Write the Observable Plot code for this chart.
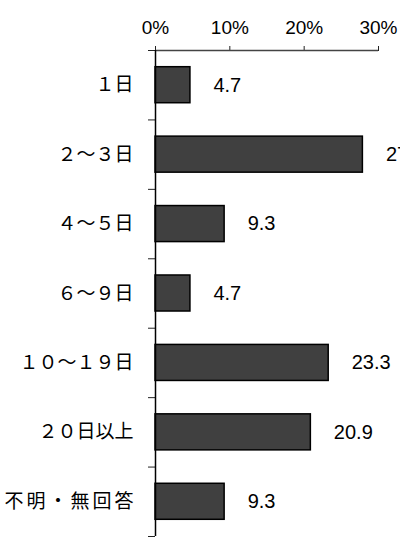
<!DOCTYPE html>
<html>
<head>
<meta charset="utf-8">
<script src="https://cdn.jsdelivr.net/npm/d3@7"></script>
<script src="https://cdn.jsdelivr.net/npm/@observablehq/plot@0.6"></script>
<style>
  html, body { margin: 0; padding: 0; background: #fff; overflow: hidden; width: 400px; height: 538px; }
  #chart svg { display: block; overflow: visible; }
</style>
</head>
<body>
<div id="chart"></div>
<script>
const categories = ["１日", "２～３日", "４～５日", "６～９日", "１０～１９日", "２０日以上", "不明・無回答"];
const values = [4.7, 27.9, 9.3, 4.7, 23.3, 20.9, 9.3];
const xTicks = [0, 10, 20, 30];

const data = categories.map((c, i) => ({category: c, index: i, value: values[i]}));
const mids = categories.map((c, i) => i + 0.5);
const bounds = d3.range(categories.length + 1);

const font = "'Liberation Sans', 'Noto Sans CJK JP', sans-serif";
const cjkFont = "'Noto Sans CJK JP', sans-serif";

const chart = Plot.plot({
  width: 400,
  height: 538,
  marginTop: 50,
  marginBottom: 2,
  marginLeft: 155,
  marginRight: 22,
  style: {fontFamily: font, fontSize: "20px", color: "#000", background: "#fff"},
  x: {type: "linear", domain: [0, 30]},
  y: {type: "linear", domain: [0, categories.length], reverse: true},
  marks: [
    Plot.rectX(data, {
      x1: 0,
      x2: "value",
      y1: "index",
      y2: d => d.index + 1,
      insetTop: 16.7,
      insetBottom: 16.7,
      fill: "#404040",
      stroke: "#000",
      strokeWidth: 1.5
    }),
    Plot.text(data, {
      x: "value",
      y: d => d.index + 0.5,
      text: d => d.value.toFixed(1),
      dx: 23,
      textAnchor: "start",
      fontSize: 20,
      fill: "#000"
    }),
    Plot.axisX({
      anchor: "top",
      ticks: xTicks,
      tickFormat: d => d + "%",
      tickSize: 5,
      tickPadding: 12,
      fontSize: 19,
      label: null,
      stroke: "#222"
    }),
    Plot.axisY({
      ticks: mids,
      tickFormat: d => categories[Math.floor(d)],
      tickSize: 0,
      tickPadding: 22,
      fontSize: 19,
      fontFamily: cjkFont,
      label: null
    }),
    Plot.axisY({
      ticks: bounds,
      tickFormat: () => "",
      tickSize: 7,
      label: null,
      stroke: "#222"
    }),
    Plot.ruleY([0], {stroke: "#444", strokeWidth: 1.5}),
    Plot.ruleX([0], {stroke: "#000", strokeWidth: 1.5})
  ]
});

// the last category label is spaced wider in the reference
d3.select(chart).selectAll("text")
  .filter(function () { return this.textContent === categories[categories.length - 1]; })
  .style("letter-spacing", "3px")
  .attr("dx", function () { return (+(d3.select(this).attr("dx")) || 0) + 3; });

document.getElementById("chart").appendChild(chart);
</script>
</body>
</html>
